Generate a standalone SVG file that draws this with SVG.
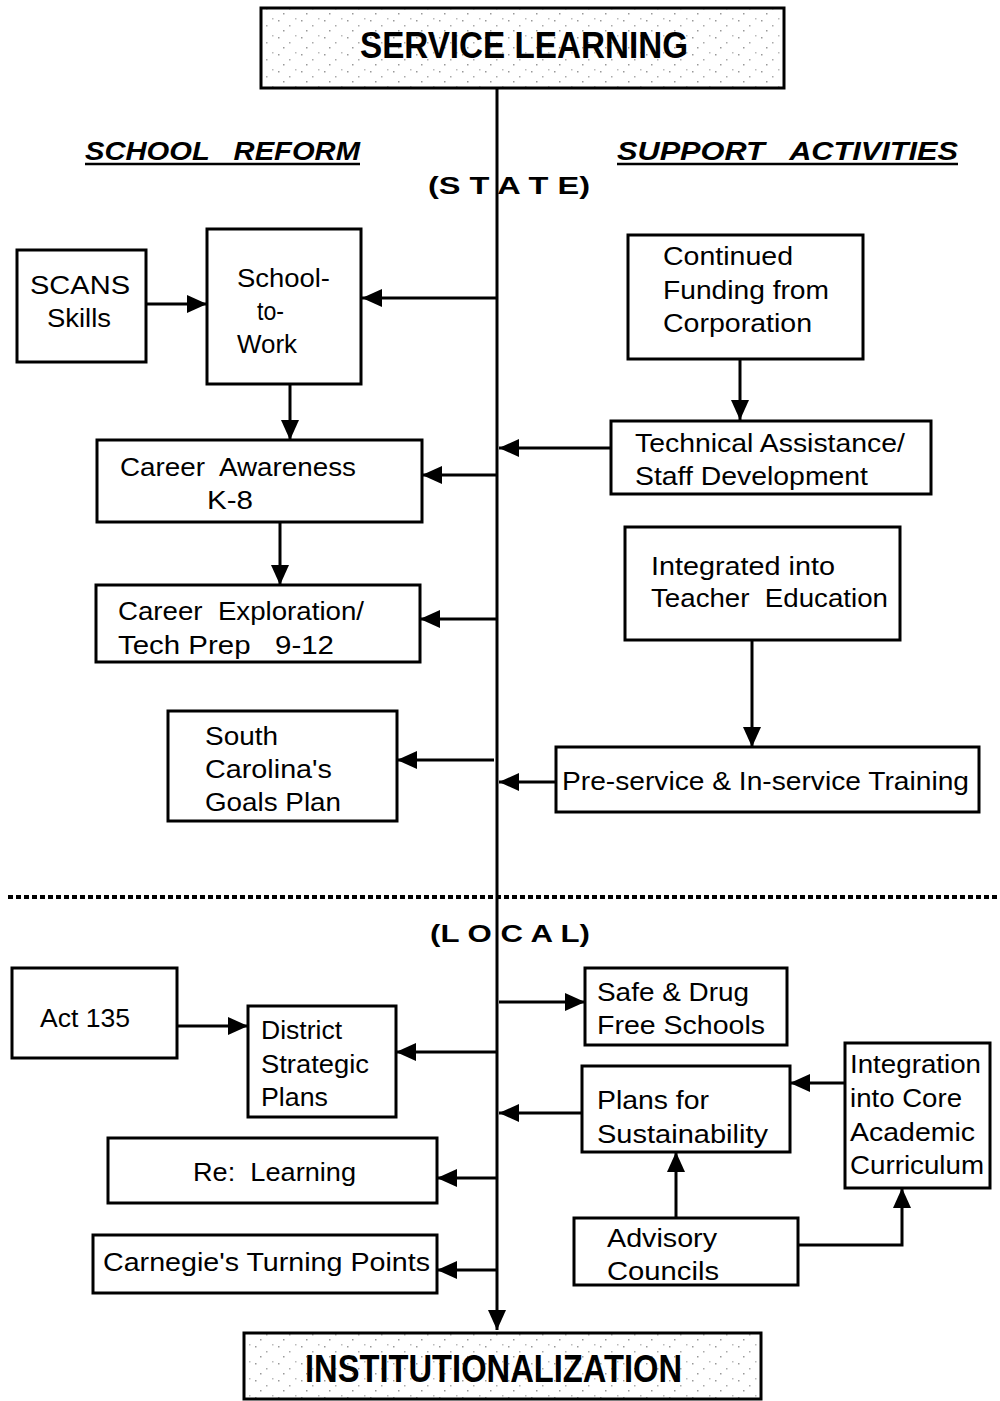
<svg xmlns="http://www.w3.org/2000/svg" width="1000" height="1401" viewBox="0 0 1000 1401">
<style>
text{white-space:pre}
.box{fill:#fff;stroke:#000;stroke-width:3}
.hdr{stroke:#000;stroke-width:3}
.t{font-family:"Liberation Sans",Arial,sans-serif;font-size:26px;fill:#000}
.b{font-family:"Liberation Sans",Arial,sans-serif;font-weight:bold;fill:#000}
.c{fill:none;stroke:#000;stroke-width:3}
</style>
<defs>
<marker id="ah" markerUnits="userSpaceOnUse" markerWidth="22" markerHeight="18" refX="20" refY="9" orient="auto">
<path d="M0,0 L20,9 L0,18 Z" fill="#000"/>
</marker>
<pattern id="speck" width="23" height="17" patternUnits="userSpaceOnUse">
<rect width="23" height="17" fill="#fff"/>
<rect x="2" y="3" width="1.5" height="1.5" fill="#999"/>
<rect x="13" y="8" width="1.5" height="1.5" fill="#aaa"/>
<rect x="7" y="13" width="1.5" height="1.5" fill="#999"/>
<rect x="19" y="1" width="1.5" height="1.5" fill="#bbb"/>
</pattern>
</defs>

<g id="connectors">
<line class="c" x1="497" y1="88" x2="497" y2="1330" marker-end="url(#ah)"/>
<line class="c" x1="146" y1="304" x2="207" y2="304" marker-end="url(#ah)"/>
<line class="c" x1="497" y1="298" x2="362" y2="298" marker-end="url(#ah)"/>
<line class="c" x1="290" y1="384" x2="290" y2="440" marker-end="url(#ah)"/>
<line class="c" x1="497" y1="475" x2="422" y2="475" marker-end="url(#ah)"/>
<line class="c" x1="280" y1="522" x2="280" y2="585" marker-end="url(#ah)"/>
<line class="c" x1="497" y1="619" x2="420" y2="619" marker-end="url(#ah)"/>
<line class="c" x1="494" y1="760" x2="397" y2="760" marker-end="url(#ah)"/>
<line class="c" x1="740" y1="359" x2="740" y2="420" marker-end="url(#ah)"/>
<line class="c" x1="611" y1="448" x2="499" y2="448" marker-end="url(#ah)"/>
<line class="c" x1="752" y1="640" x2="752" y2="747" marker-end="url(#ah)"/>
<line class="c" x1="556" y1="782" x2="499" y2="782" marker-end="url(#ah)"/>
<line class="c" x1="177" y1="1026" x2="248" y2="1026" marker-end="url(#ah)"/>
<line class="c" x1="497" y1="1052" x2="396" y2="1052" marker-end="url(#ah)"/>
<line class="c" x1="499" y1="1002" x2="585" y2="1002" marker-end="url(#ah)"/>
<line class="c" x1="582" y1="1113" x2="499" y2="1113" marker-end="url(#ah)"/>
<line class="c" x1="845" y1="1083" x2="790" y2="1083" marker-end="url(#ah)"/>
<line class="c" x1="497" y1="1178" x2="437" y2="1178" marker-end="url(#ah)"/>
<line class="c" x1="497" y1="1270" x2="437" y2="1270" marker-end="url(#ah)"/>
<line class="c" x1="676" y1="1218" x2="676" y2="1152" marker-end="url(#ah)"/>
<path class="c" d="M798,1245 H902 V1188" marker-end="url(#ah)"/>
</g>

<g id="labels">
<text class="b" x="85" y="160" font-size="26" font-style="italic" textLength="275" lengthAdjust="spacingAndGlyphs">SCHOOL   REFORM</text>
<line x1="85" y1="164" x2="360" y2="164" stroke="#000" stroke-width="2.5"/>
<text class="b" x="617" y="160" font-size="26" font-style="italic" textLength="341" lengthAdjust="spacingAndGlyphs">SUPPORT   ACTIVITIES</text>
<line x1="617" y1="164" x2="958" y2="164" stroke="#000" stroke-width="2.5"/>
<text class="b" x="428" y="194" font-size="24" textLength="162" lengthAdjust="spacingAndGlyphs">(S T A T E)</text>
<line x1="8" y1="897" x2="1000" y2="897" stroke="#000" stroke-width="4" stroke-dasharray="5 3"/>
<text class="b" x="430" y="942" font-size="24" textLength="160" lengthAdjust="spacingAndGlyphs">(L O C A L)</text>
</g>

<g id="service-learning">
<rect class="hdr" x="261" y="8" width="523" height="80" fill="url(#speck)"/>
<text class="b" x="360" y="58" font-size="36" textLength="328" lengthAdjust="spacingAndGlyphs">SERVICE LEARNING</text>
</g>

<g id="institutionalization">
<rect class="hdr" x="244" y="1333" width="517" height="66" fill="url(#speck)"/>
<text class="b" x="305" y="1382" font-size="38" textLength="377" lengthAdjust="spacingAndGlyphs">INSTITUTIONALIZATION</text>
</g>

<g id="scans">
<rect class="box" x="17" y="250" width="129" height="112"/>
<text class="t" x="30" y="294" textLength="100" lengthAdjust="spacingAndGlyphs">SCANS</text>
<text class="t" x="47" y="327" textLength="64" lengthAdjust="spacingAndGlyphs">Skills</text>
</g>

<g id="school-to-work">
<rect class="box" x="207" y="229" width="154" height="155"/>
<text class="t" x="237" y="287" textLength="93" lengthAdjust="spacingAndGlyphs">School-</text>
<text class="t" x="257" y="320" textLength="27" lengthAdjust="spacingAndGlyphs">to-</text>
<text class="t" x="237" y="353" textLength="60" lengthAdjust="spacingAndGlyphs">Work</text>
</g>

<g id="career-awareness">
<rect class="box" x="97" y="440" width="325" height="82"/>
<text class="t" x="120" y="476" textLength="236" lengthAdjust="spacingAndGlyphs">Career  Awareness</text>
<text class="t" x="207" y="509" textLength="46" lengthAdjust="spacingAndGlyphs">K-8</text>
</g>

<g id="career-exploration">
<rect class="box" x="96" y="585" width="324" height="77"/>
<text class="t" x="118" y="620" textLength="246" lengthAdjust="spacingAndGlyphs">Career  Exploration/</text>
<text class="t" x="118" y="654" textLength="216" lengthAdjust="spacingAndGlyphs">Tech Prep   9-12</text>
</g>

<g id="south-carolina">
<rect class="box" x="168" y="711" width="229" height="110"/>
<text class="t" x="205" y="745" textLength="73" lengthAdjust="spacingAndGlyphs">South</text>
<text class="t" x="205" y="778" textLength="127" lengthAdjust="spacingAndGlyphs">Carolina's</text>
<text class="t" x="205" y="811" textLength="136" lengthAdjust="spacingAndGlyphs">Goals Plan</text>
</g>

<g id="continued-funding">
<rect class="box" x="628" y="235" width="235" height="124"/>
<text class="t" x="663" y="265" textLength="130" lengthAdjust="spacingAndGlyphs">Continued</text>
<text class="t" x="663" y="299" textLength="166" lengthAdjust="spacingAndGlyphs">Funding from</text>
<text class="t" x="663" y="332" textLength="149" lengthAdjust="spacingAndGlyphs">Corporation</text>
</g>

<g id="technical-assistance">
<rect class="box" x="611" y="421" width="320" height="73"/>
<text class="t" x="635" y="452" textLength="270" lengthAdjust="spacingAndGlyphs">Technical Assistance/</text>
<text class="t" x="635" y="485" textLength="233" lengthAdjust="spacingAndGlyphs">Staff Development</text>
</g>

<g id="teacher-education">
<rect class="box" x="625" y="527" width="275" height="113"/>
<text class="t" x="651" y="575" textLength="184" lengthAdjust="spacingAndGlyphs">Integrated into</text>
<text class="t" x="651" y="607" textLength="237" lengthAdjust="spacingAndGlyphs">Teacher  Education</text>
</g>

<g id="pre-service">
<rect class="box" x="556" y="747" width="423" height="65"/>
<text class="t" x="562" y="790" textLength="407" lengthAdjust="spacingAndGlyphs">Pre-service &amp; In-service Training</text>
</g>

<g id="act-135">
<rect class="box" x="12" y="968" width="165" height="90"/>
<text class="t" x="40" y="1027" textLength="90" lengthAdjust="spacingAndGlyphs">Act 135</text>
</g>

<g id="district-plans">
<rect class="box" x="248" y="1006" width="148" height="111"/>
<text class="t" x="261" y="1039" textLength="81" lengthAdjust="spacingAndGlyphs">District</text>
<text class="t" x="261" y="1073" textLength="108" lengthAdjust="spacingAndGlyphs">Strategic</text>
<text class="t" x="261" y="1106" textLength="67" lengthAdjust="spacingAndGlyphs">Plans</text>
</g>

<g id="safe-drug-free">
<rect class="box" x="585" y="968" width="202" height="77"/>
<text class="t" x="597" y="1001" textLength="152" lengthAdjust="spacingAndGlyphs">Safe &amp; Drug</text>
<text class="t" x="597" y="1034" textLength="168" lengthAdjust="spacingAndGlyphs">Free Schools</text>
</g>

<g id="sustainability">
<rect class="box" x="582" y="1066" width="208" height="86"/>
<text class="t" x="597" y="1109" textLength="112" lengthAdjust="spacingAndGlyphs">Plans for</text>
<text class="t" x="597" y="1143" textLength="171" lengthAdjust="spacingAndGlyphs">Sustainability</text>
</g>

<g id="core-curriculum">
<rect class="box" x="845" y="1043" width="145" height="145"/>
<text class="t" x="850" y="1073" textLength="131" lengthAdjust="spacingAndGlyphs">Integration</text>
<text class="t" x="850" y="1107" textLength="112" lengthAdjust="spacingAndGlyphs">into Core</text>
<text class="t" x="850" y="1141" textLength="125" lengthAdjust="spacingAndGlyphs">Academic</text>
<text class="t" x="850" y="1174" textLength="134" lengthAdjust="spacingAndGlyphs">Curriculum</text>
</g>

<g id="re-learning">
<rect class="box" x="108" y="1138" width="329" height="65"/>
<text class="t" x="193" y="1181" textLength="163" lengthAdjust="spacingAndGlyphs">Re:  Learning</text>
</g>

<g id="carnegie">
<rect class="box" x="93" y="1235" width="344" height="58"/>
<text class="t" x="103" y="1271" textLength="327" lengthAdjust="spacingAndGlyphs">Carnegie's Turning Points</text>
</g>

<g id="advisory-councils">
<rect class="box" x="574" y="1218" width="224" height="67"/>
<text class="t" x="607" y="1247" textLength="110" lengthAdjust="spacingAndGlyphs">Advisory</text>
<text class="t" x="607" y="1280" textLength="112" lengthAdjust="spacingAndGlyphs">Councils</text>
</g>
</svg>
